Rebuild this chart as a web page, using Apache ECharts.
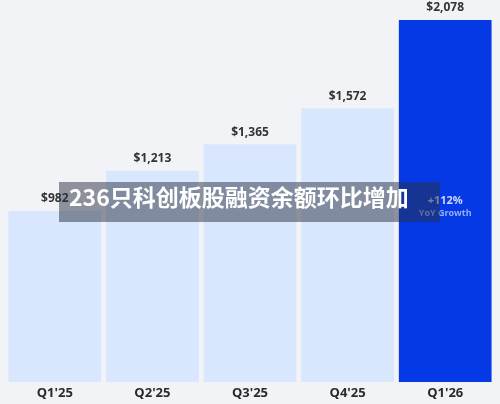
<!DOCTYPE html>
<html>
<head>
<meta charset="utf-8">
<script src="https://cdn.jsdelivr.net/npm/echarts@6/dist/echarts.min.js"></script>
<style>
  html, body { margin: 0; padding: 0; background: #f2f3f7; }
  #main { width: 500px; height: 404px; }
</style>
</head>
<body>
<div id="main"></div>
<script>
var categories = ["Q1'25", "Q2'25", "Q3'25", "Q4'25", "Q1'26"];
var values = [982, 1213, 1365, 1572, 2078];
var growthText = ['+112%', 'YoY Growth'];
var bannerText = '236只科创板股融资余额环比增加';

var myChart = echarts.init(document.getElementById('main'));

var barData = values.map(function (v, i) {
    var last = i === values.length - 1;
    return {
        value: v,
        itemStyle: { color: last ? '#0539e6' : '#d8e7fd' }
    };
});

var option = {
    backgroundColor: '#f2f3f7',
    animation: false,
    grid: { left: 6, right: 6, top: 20, bottom: 22 },
    xAxis: {
        type: 'category',
        data: categories,
        axisLine: { show: false },
        axisTick: { show: false },
        axisLabel: {
            color: '#2a2a2a',
            fontSize: 13,
            fontWeight: 'bold',
            fontFamily: '"Open Sans", sans-serif',
            margin: 5
        }
    },
    yAxis: {
        type: 'value',
        min: 0,
        max: 2078,
        show: false,
        splitLine: { show: false }
    },
    series: [{
        type: 'bar',
        data: barData,
        barCategoryGap: '5%',
        label: {
            show: true,
            position: 'top',
            distance: 6,
            color: '#333',
            fontSize: 12,
            fontFamily: '"Open Sans", sans-serif',
            fontWeight: 'bold',
            formatter: function (p) {
                return '$' + p.value.toLocaleString('en-US');
            }
        },
        markPoint: {
            symbol: 'circle',
            symbolSize: 1,
            itemStyle: { color: 'rgba(0,0,0,0)' },
            data: [{
                coord: [categories.length - 1, 1010],
                label: {
                    show: true,
                    position: 'inside',
                    formatter: '{a|' + growthText[0] + '}\n{b|' + growthText[1] + '}',
                    rich: {
                        a: { color: 'rgba(225,232,255,0.9)', fontSize: 11, fontWeight: 'bold', fontFamily: '"Open Sans", sans-serif', lineHeight: 14 },
                        b: { color: 'rgba(200,212,255,0.75)', fontSize: 9, fontWeight: 'bold', fontFamily: '"Open Sans", sans-serif', lineHeight: 11 }
                    }
                }
            }]
        }
    }],
    graphic: [{
        type: 'rect',
        left: 59,
        top: 182,
        shape: { width: 381, height: 40 },
        style: { fill: 'rgba(40,48,66,0.5)' },
        z: 100
    }, {
        type: 'text',
        left: 69,
        top: 186,
        style: {
            text: bannerText,
            fill: '#ffffff',
            font: 'bold 23px "Noto Sans CJK SC", sans-serif'
        },
        z: 101
    }]
};

myChart.setOption(option);
</script>
</body>
</html>
